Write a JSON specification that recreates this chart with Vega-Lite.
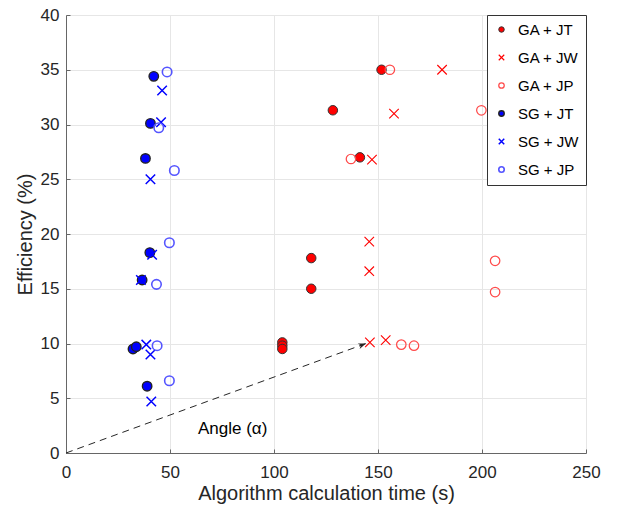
{
  "$schema": "https://vega.github.io/schema/vega-lite/v6.json",
  "width": 520,
  "height": 438,
  "autosize": "none",
  "padding": {"left": 66, "top": 15, "right": 34, "bottom": 57},
  "background": "white",
  "config": {
    "font": "Liberation Sans",
    "view": {"stroke": null},
    "axis": {
      "labelFont": "Liberation Sans",
      "titleFont": "Liberation Sans",
      "labelFontSize": 17,
      "titleFontSize": 20,
      "titleFontWeight": "normal",
      "labelColor": "#262626",
      "titleColor": "#262626",
      "domainColor": "#666666",
      "tickColor": "#666666",
      "gridColor": "#e6e6e6",
      "gridWidth": 1,
      "labelFlush": false,
      "labelOverlap": false
    }
  },
  "datasets": {
    "pts": [
      {"series": "GA + JT", "time": 151.7, "eff": 35.0},
      {"series": "GA + JT", "time": 128.3, "eff": 31.3},
      {"series": "GA + JT", "time": 141.3, "eff": 27.0},
      {"series": "GA + JT", "time": 117.9, "eff": 17.8},
      {"series": "GA + JT", "time": 117.9, "eff": 15.0},
      {"series": "GA + JT", "time": 104.0, "eff": 10.1},
      {"series": "GA + JT", "time": 104.0, "eff": 9.8},
      {"series": "GA + JT", "time": 104.0, "eff": 9.5},
      {"series": "GA + JW", "time": 180.8, "eff": 35.0},
      {"series": "GA + JW", "time": 157.7, "eff": 31.0},
      {"series": "GA + JW", "time": 147.1, "eff": 26.8},
      {"series": "GA + JW", "time": 145.8, "eff": 19.3},
      {"series": "GA + JW", "time": 145.8, "eff": 16.6},
      {"series": "GA + JW", "time": 146.1, "eff": 10.1},
      {"series": "GA + JW", "time": 153.7, "eff": 10.3},
      {"series": "GA + JP", "time": 155.7, "eff": 35.0},
      {"series": "GA + JP", "time": 199.7, "eff": 31.3},
      {"series": "GA + JP", "time": 137.0, "eff": 26.85},
      {"series": "GA + JP", "time": 206.3, "eff": 17.55},
      {"series": "GA + JP", "time": 206.3, "eff": 14.7},
      {"series": "GA + JP", "time": 161.2, "eff": 9.9},
      {"series": "GA + JP", "time": 167.3, "eff": 9.8},
      {"series": "SG + JT", "time": 42.2, "eff": 34.4},
      {"series": "SG + JT", "time": 40.6, "eff": 30.1},
      {"series": "SG + JT", "time": 38.2, "eff": 26.9},
      {"series": "SG + JT", "time": 40.3, "eff": 18.3},
      {"series": "SG + JT", "time": 36.6, "eff": 15.8},
      {"series": "SG + JT", "time": 32.2, "eff": 9.5},
      {"series": "SG + JT", "time": 33.8, "eff": 9.7},
      {"series": "SG + JT", "time": 39.0, "eff": 6.1},
      {"series": "SG + JW", "time": 46.2, "eff": 33.1},
      {"series": "SG + JW", "time": 45.7, "eff": 30.2},
      {"series": "SG + JW", "time": 40.6, "eff": 25.0},
      {"series": "SG + JW", "time": 41.4, "eff": 18.1},
      {"series": "SG + JW", "time": 36.0, "eff": 15.8},
      {"series": "SG + JW", "time": 38.6, "eff": 9.9},
      {"series": "SG + JW", "time": 40.6, "eff": 9.0},
      {"series": "SG + JW", "time": 41.0, "eff": 4.7},
      {"series": "SG + JP", "time": 48.6, "eff": 34.8},
      {"series": "SG + JP", "time": 44.6, "eff": 29.7},
      {"series": "SG + JP", "time": 52.1, "eff": 25.8},
      {"series": "SG + JP", "time": 49.7, "eff": 19.2},
      {"series": "SG + JP", "time": 43.5, "eff": 15.4},
      {"series": "SG + JP", "time": 43.8, "eff": 9.8},
      {"series": "SG + JP", "time": 49.7, "eff": 6.6}
    ],
    "arrow": [
      {"x0": 0, "y0": 0, "x1": 144.2, "y1": 10.0, "label": "Angle (α)", "lx": 80.1, "ly": 2.2}
    ]
  },
  "encoding": {},
  "layer": [
    {
      "data": {"name": "arrow"},
      "mark": {"type": "rule", "color": "#262626", "strokeWidth": 1, "strokeDash": [7, 5]},
      "encoding": {
        "x": {"field": "x0", "type": "quantitative", "scale": {"domain": [0, 250], "nice": false}},
        "y": {"field": "y0", "type": "quantitative", "scale": {"domain": [0, 40], "nice": false}},
        "x2": {"field": "x1"},
        "y2": {"field": "y1"}
      }
    },
    {
      "data": {"name": "arrow"},
      "mark": {"type": "point", "shape": "M0,0L-2,-0.75L-1.4,0L-2,0.75Z", "filled": true, "color": "#262626", "size": 60, "angle": -20, "opacity": 1},
      "encoding": {
        "x": {"field": "x1", "type": "quantitative"},
        "y": {"field": "y1", "type": "quantitative"}
      }
    },
    {
      "data": {"name": "arrow"},
      "mark": {"type": "text", "fontSize": 17, "color": "#000000", "font": "Liberation Sans"},
      "encoding": {
        "x": {"field": "lx", "type": "quantitative"},
        "y": {"field": "ly", "type": "quantitative"},
        "text": {"field": "label"}
      }
    },
    {
      "data": {"name": "pts"},
      "mark": {"type": "point", "opacity": 1, "size": 90},
      "encoding": {
        "x": {
          "field": "time", "type": "quantitative",
          "title": "Algorithm calculation time (s)",
          "scale": {"domain": [0, 250], "nice": false},
          "axis": {"values": [0, 50, 100, 150, 200, 250], "tickSize": -4, "labelPadding": 15, "titlePadding": 3}
        },
        "y": {
          "field": "eff", "type": "quantitative",
          "title": "Efficiency (%)",
          "scale": {"domain": [0, 40], "nice": false},
          "axis": {"values": [0, 5, 10, 15, 20, 25, 30, 35, 40], "tickSize": -4, "labelPadding": 11, "titlePadding": 5}
        },
        "shape": {
          "field": "series", "type": "nominal",
          "scale": {
            "domain": ["GA + JT", "GA + JW", "GA + JP", "SG + JT", "SG + JW", "SG + JP"],
            "range": ["circle", "M-1,-1L1,1M1,-1L-1,1", "circle", "circle", "M-1,-1L1,1M1,-1L-1,1", "circle"]
          },
          "legend": {
            "title": null,
            "orient": "top-right",
            "offset": 0,
            "strokeColor": "#333333",
            "fillColor": "white",
            "padding": 7,
            "rowPadding": 12,
            "symbolSize": 30,
            "labelFontSize": 15,
            "labelFont": "Liberation Sans",
            "labelColor": "#000000",
            "labelOffset": 9,
            "encode": {"symbols": {"update": {"size": {"value": 30}}}}
          }
        },
        "fill": {
          "field": "series", "type": "nominal",
          "scale": {
            "domain": ["GA + JT", "GA + JW", "GA + JP", "SG + JT", "SG + JW", "SG + JP"],
            "range": ["#ff0000", "transparent", "transparent", "#0000ff", "transparent", "transparent"]
          }
        },
        "stroke": {
          "field": "series", "type": "nominal",
          "scale": {
            "domain": ["GA + JT", "GA + JW", "GA + JP", "SG + JT", "SG + JW", "SG + JP"],
            "range": ["#333333", "#ff0000", "#ff4a4a", "#222222", "#0000ff", "#5555ff"]
          }
        },
        "strokeWidth": {
          "field": "series", "type": "nominal",
          "scale": {
            "domain": ["GA + JT", "GA + JW", "GA + JP", "SG + JT", "SG + JW", "SG + JP"],
            "range": [1, 1.6, 1.1, 1, 1.6, 1.1]
          }
        }
      }
    }
  ]
}
